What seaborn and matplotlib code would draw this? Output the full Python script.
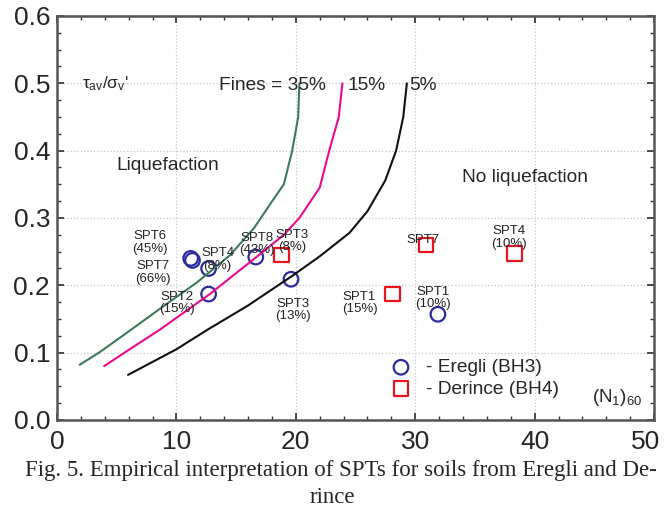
import matplotlib
matplotlib.use("Agg")
import matplotlib.pyplot as plt
import matplotlib.transforms as mtrans
import pandas as pd
import seaborn as sns
from matplotlib.ticker import MultipleLocator

# boundary curves (Fines = 35%, 15%, 5%)
fines35_x = [1.9, 3.6, 6.2, 9.0, 11.7, 14.5, 16.5, 18.1, 19.0, 19.7, 20.2, 20.3]
fines35_y = [0.082, 0.101, 0.134, 0.170, 0.204, 0.245, 0.285, 0.327, 0.350, 0.400, 0.450, 0.500]
fines15_x = [3.95, 6.0, 8.6, 12.8, 16.7, 19.0, 20.3, 22.0, 22.8, 23.6, 23.9]
fines15_y = [0.080, 0.104, 0.134, 0.187, 0.242, 0.275, 0.300, 0.345, 0.400, 0.450, 0.500]
fines5_x = [5.95, 10.0, 12.6, 16.0, 19.7, 22.0, 24.5, 26.0, 27.5, 28.4, 29.0, 29.3]
fines5_y = [0.067, 0.105, 0.134, 0.170, 0.214, 0.243, 0.278, 0.310, 0.356, 0.400, 0.450, 0.500]

# SPT results
eregli_n = [11.2, 11.35, 12.7, 12.7, 16.65, 19.6, 31.9]
eregli_csr = [0.240, 0.237, 0.225, 0.187, 0.242, 0.209, 0.157]
eregli_labels = ["SPT6\n(45%)", "SPT7\n(66%)", "SPT4\n(8%)", "SPT2\n(15%)",
                 "SPT8\n(43%)", "SPT3\n(13%)", "SPT1\n(10%)"]
derince_n = [18.8, 30.9, 38.3, 28.1]
derince_csr = [0.245, 0.260, 0.247, 0.187]
derince_labels = ["SPT3\n(8%)", "SPT7", "SPT4\n(10%)", "SPT1\n(15%)"]

# label placement (offset in pixels from each marker)
eregli_offsets = [(-41, 16), (-40, -12), (9, 9), (-32, -9), (1, 13), (2, -31), (-5, 16)]
derince_offsets = [(11, 14), (-3, 5), (-5, 16), (-33, -9)]

sns.set_theme(style="ticks")
plt.rcParams["font.family"] = ["Liberation Sans", "DejaVu Sans"]
plt.rcParams["mathtext.fontset"] = "custom"
plt.rcParams["mathtext.rm"] = "Liberation Sans"
plt.rcParams["mathtext.it"] = "Liberation Sans"

fig = plt.figure(figsize=(6.64, 5.24), dpi=100)
ax = fig.add_axes([0.0858, 0.1985, 0.8992, 0.771])

curves = [(fines35_x, fines35_y, "#3d7a5c"), (fines15_x, fines15_y, "#ec0a8c"),
          (fines5_x, fines5_y, "#111111")]
for xs, ys, col in curves:
    df = pd.DataFrame({"n": xs, "csr": ys})
    sns.lineplot(data=df, x="n", y="csr", sort=False, color=col, lw=1.5,
                 estimator=None, ax=ax)

er = pd.DataFrame({"n": eregli_n, "csr": eregli_csr})
de = pd.DataFrame({"n": derince_n, "csr": derince_csr})
sns.scatterplot(data=er, x="n", y="csr", marker="o", s=110, facecolors="none",
                edgecolor="#2b2b9c", linewidth=1.6, label="- Eregli (BH3)", ax=ax)
sns.scatterplot(data=de, x="n", y="csr", marker="s", s=110, facecolors="none",
                edgecolor="#e8141e", linewidth=1.6, label="- Derince (BH4)", ax=ax)

for x, y, t, off in zip(eregli_n, eregli_csr, eregli_labels, eregli_offsets):
    ax.annotate(t, (x, y), xytext=off, textcoords="offset pixels", ha="center",
                va="center", fontsize=9.5, color="#222222", linespacing=1.05)
for x, y, t, off in zip(derince_n, derince_csr, derince_labels, derince_offsets):
    ax.annotate(t, (x, y), xytext=off, textcoords="offset pixels", ha="center",
                va="center", fontsize=9.5, color="#222222", linespacing=1.05)

ax.set_xlim(0, 50)
ax.set_ylim(0, 0.6)
ax.xaxis.set_major_locator(MultipleLocator(10))
ax.xaxis.set_minor_locator(MultipleLocator(2))
ax.yaxis.set_major_locator(MultipleLocator(0.1))
ax.yaxis.set_minor_locator(MultipleLocator(0.025))
ax.yaxis.set_major_formatter(plt.FuncFormatter(lambda v, p: f"{v:.1f}"))
ax.tick_params(which="both", direction="in", top=True, right=True, color="#333333")
ax.tick_params(which="major", length=5, labelsize=19, pad=5)
ax.tick_params(axis="x", which="major", pad=7)
ax.tick_params(which="minor", length=3)
ax.grid(True, which="major", color="#c8c8c8", linestyle=":", linewidth=0.9)
for s in ax.spines.values():
    s.set_color("#555555")
    s.set_linewidth(1.8)
ax.set_xlabel("")
ax.set_ylabel("")

ax.text(2.1, 0.5, r"$\tau_{\mathrm{av}}/\sigma_{\mathrm{v}}$'", fontsize=12.5, va="center")
ax.text(5.0, 0.378, "Liquefaction", fontsize=13.8, va="center")
ax.text(33.9, 0.36, "No liquefaction", fontsize=13.8, va="center")
ax.text(13.6, 0.497, "Fines = 35%", fontsize=13.8, va="center")
ax.text(24.35, 0.497, "15%", fontsize=13.8, va="center")
ax.text(29.5, 0.497, "5%", fontsize=13.8, va="center")
ax.text(49.0, 0.033, r"$(\mathrm{N}_1)_{60}$", fontsize=13.5, ha="right", va="center")

leg = ax.legend(loc="upper left", bbox_to_anchor=(0.528, 0.175), frameon=False,
                fontsize=13.8, handletextpad=0.3, borderpad=0, labelspacing=0.2,
                markerscale=1.0)

fig.text(0.514, 0.103, "Fig. 5. Empirical interpretation of SPTs for soils from Eregli and De-",
         family="Liberation Serif", fontsize=16.5, ha="center", va="center")
fig.text(0.5, 0.05, "rince", family="Liberation Serif", fontsize=16.5,
         ha="center", va="center")

# keep the last x tick label inside the figure
fig.canvas.draw()
for tick in ax.xaxis.get_major_ticks():
    if abs(tick.get_loc() - 50) < 1e-6:
        lab = tick.label1
        lab.set_transform(lab.get_transform()
                          + mtrans.ScaledTranslation(-0.08, 0, fig.dpi_scale_trans))

fig.savefig("out.png", dpi=100)
